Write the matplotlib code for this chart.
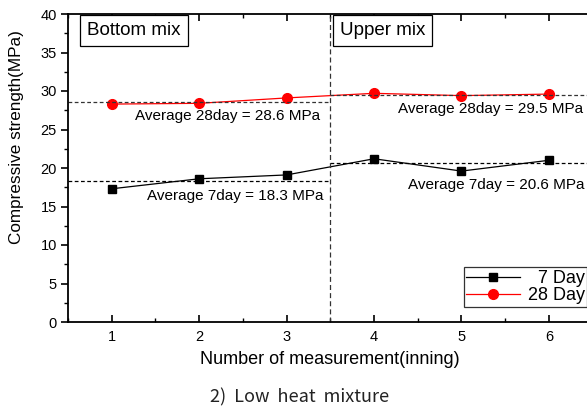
import matplotlib
matplotlib.use("Agg")
import matplotlib.pyplot as plt
from matplotlib.ticker import MultipleLocator

plt.rcParams['font.family'] = ['Liberation Sans', 'DejaVu Sans']

measurements = [1, 2, 3, 4, 5, 6]
strength_7day = [17.3, 18.6, 19.1, 21.2, 19.6, 21.0]
strength_28day = [28.3, 28.4, 29.1, 29.7, 29.4, 29.6]

avg_7day = [18.3, 20.6]     # bottom mix, upper mix
avg_28day = [28.6, 29.5]
group_labels = ["Bottom mix", "Upper mix"]
divider = 3.5

fig = plt.figure(figsize=(5.87, 4.08), dpi=100)
ax = fig.add_axes([68/587, 86/408, 524.6/587, 308/408])

ax.plot(measurements, strength_7day, color='black', marker='s', markersize=5.5,
        linewidth=0.9, label='  7 Day')
ax.plot(measurements, strength_28day, color='red', marker='o', markersize=7,
        linewidth=0.9, label='28 Day')

# Group averages
dash = (0, (3, 2))
for (x0, x1), a7, a28 in zip([(0.5, divider), (divider, 6.5)], avg_7day, avg_28day):
    ax.plot([x0, x1], [a28, a28], color='#333333', linewidth=0.9, linestyle=dash)
    ax.plot([x0, x1], [a7, a7], color='black', linewidth=0.9, linestyle=dash)

ax.axvline(divider, color='#333333', linewidth=0.9, linestyle=(0, (4, 2.5)))

txt_kw = dict(fontsize=11, color='black', va='center', ha='left')
ax.text(1.27, 26.8, f"Average 28day = {avg_28day[0]} MPa", **txt_kw)
ax.text(1.40, 16.3, f"Average 7day = {avg_7day[0]} MPa", **txt_kw)
ax.text(4.28, 27.7, f"Average 28day = {avg_28day[1]} MPa", **txt_kw)
ax.text(4.39, 17.8, f"Average 7day = {avg_7day[1]} MPa", **txt_kw)

box_kw = dict(boxstyle='square,pad=0.38', facecolor='white', edgecolor='black', linewidth=0.9)
ax.text(0.72, 37.9, group_labels[0], fontsize=13.5, va='center', ha='left', bbox=box_kw)
ax.text(3.61, 37.9, group_labels[1], fontsize=13.5, va='center', ha='left', bbox=box_kw)

ax.set_xlim(0.5, 6.5)
ax.set_ylim(0, 40)
ax.set_xticks(measurements)
ax.xaxis.set_minor_locator(MultipleLocator(0.5))
ax.yaxis.set_major_locator(MultipleLocator(5))
ax.yaxis.set_minor_locator(MultipleLocator(2.5))
ax.tick_params(axis='x', which='major', direction='in', length=5, width=1.2,
               top=True, labelsize=10.5, pad=6)
ax.tick_params(axis='x', which='minor', direction='in', length=3, width=1, top=True)
ax.tick_params(axis='y', which='major', direction='out', length=5, width=1.2,
               labelsize=10.5, pad=3)
ax.tick_params(axis='y', which='minor', direction='out', length=3, width=1)
for s in ax.spines.values():
    s.set_linewidth(1.3)

ax.set_xlabel("Number of measurement(inning)", fontsize=13, labelpad=5)
ax.set_ylabel("Compressive strength(MPa)", fontsize=12.3)
ax.yaxis.set_label_coords(-0.083, 0.6)

leg = ax.legend(loc='lower right', bbox_to_anchor=(0.99, 0.05), fontsize=13,
                frameon=True, fancybox=False, edgecolor='black', borderpad=0.15,
                labelspacing=0.0, handlelength=3.0, handletextpad=0.4, borderaxespad=0)
leg.get_frame().set_linewidth(0.9)

fig.text(0.51, 0.027, "2)  Low  heat  mixture", fontsize=13, ha='center', va='center',
         family=['Noto Sans CJK KR', 'DejaVu Sans'], color='#222222')

fig.savefig("out.png", dpi=100)
